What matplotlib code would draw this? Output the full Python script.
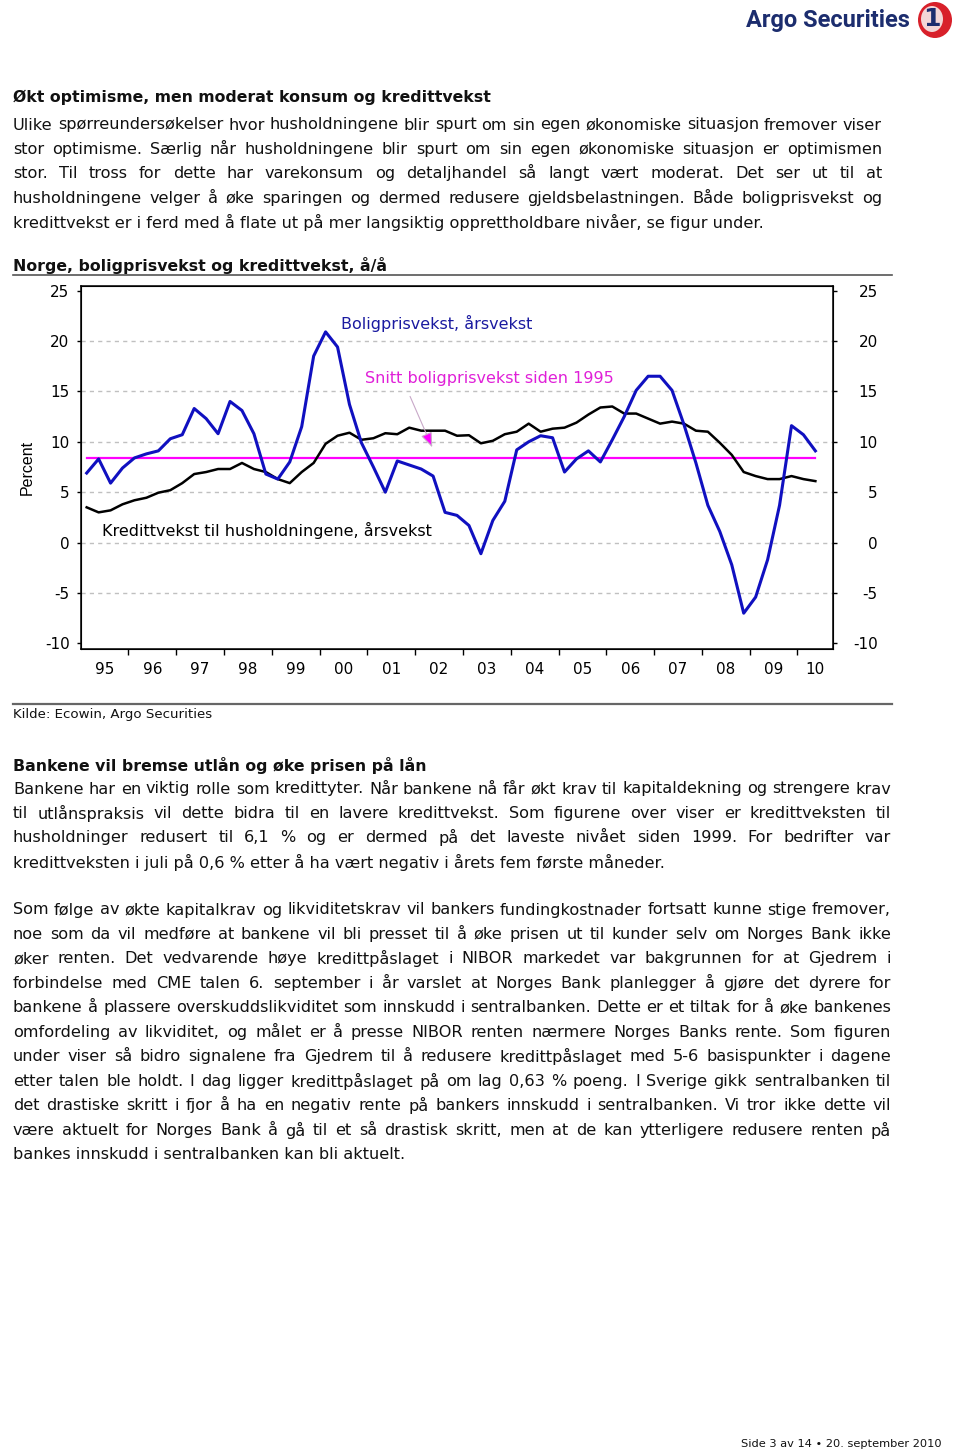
import numpy as np
import pandas as pd
import matplotlib
matplotlib.use('Agg')
import matplotlib.pyplot as plt
from matplotlib.patches import Ellipse

plt.rcParams['font.family'] = ['DejaVu Sans']
plt.rcParams['axes.unicode_minus'] = False

# ---------------- data (quarterly, 1995Q1 - 2010Q2) ----------------
quarters = pd.period_range('1995Q1', '2010Q2', freq='Q')
boligpris = [6.9, 8.3, 5.9, 7.4, 8.4, 8.8, 9.1, 10.3, 10.7, 13.3, 12.3, 10.8,
             14.0, 13.1, 10.8, 6.8, 6.3, 8.0, 11.5, 18.5, 20.9, 19.4, 13.7, 9.9,
             7.5, 5.0, 8.1, 7.7, 7.3, 6.6, 3.0, 2.7, 1.7, -1.1, 2.2, 4.1,
             9.2, 10.0, 10.6, 10.4, 7.0, 8.3, 9.1, 8.0, 10.2, 12.5, 15.1, 16.5,
             16.5, 15.1, 11.7, 7.9, 3.7, 1.1, -2.2, -7.0, -5.4, -1.7, 3.7, 11.6,
             10.7, 9.1]
kreditt = [3.5, 3.0, 3.2, 3.8, 4.2, 4.45, 4.95, 5.2, 5.9, 6.8, 7.0, 7.3,
           7.3, 7.9, 7.3, 7.0, 6.3, 5.9, 7.0, 7.9, 9.8, 10.6, 10.9, 10.2,
           10.35, 10.85, 10.75, 11.4, 11.1, 11.1, 11.1, 10.6, 10.65, 9.85, 10.1, 10.75,
           11.0, 11.8, 11.0, 11.3, 11.4, 11.9, 12.7, 13.4, 13.5, 12.8, 12.8, 12.3,
           11.8, 12.0, 11.8, 11.1, 11.0, 9.9, 8.7, 7.0, 6.6, 6.3, 6.3, 6.6,
           6.3, 6.1]
snitt = 8.36
years = list(range(1995, 2011))
year_labels = ['95', '96', '97', '98', '99', '00', '01', '02', '03', '04',
               '05', '06', '07', '08', '09', '10']

W, H = 960, 1454
fig = plt.figure(figsize=(W / 100, H / 100), dpi=100)
renderer = fig.canvas.get_renderer()

BODY = 11.6
HEAD = 11.3
LH = 24.45


def fy(py):
    return 1 - py / H


def para(lines, y0, x1, x0=13, size=BODY):
    # justified paragraph, last line left aligned
    for i, line in enumerate(lines):
        yy = fy(y0 + i * LH)
        if i == len(lines) - 1:
            fig.text(x0 / W, yy, line, fontsize=size, va='center', color='#111111')
            continue
        words = line.split(' ')
        ts = [fig.text(0, yy, w, fontsize=size, va='center', color='#111111') for w in words]
        ws = [t.get_window_extent(renderer).width for t in ts]
        gap = (x1 - x0 - sum(ws)) / (len(words) - 1)
        x = x0
        for t, w in zip(ts, ws):
            t.set_x(x / W)
            x += w + gap


def heading(text, py):
    fig.text(13 / W, fy(py), text, fontsize=HEAD, fontweight='bold', va='center', color='#111111')


# logo
fig.text(910 / W, fy(20), 'Argo Securities', fontsize=17, fontweight='bold',
         family='Roboto', color='#1c2d6e', ha='right', va='center')
fig.patches.append(Ellipse((935 / W, fy(20)), 34 / W, 36 / H, transform=fig.transFigure,
                           facecolor='#d8202a', edgecolor='none'))
fig.patches.append(Ellipse((932 / W, fy(19)), 22 / W, 26 / H, transform=fig.transFigure,
                           facecolor='#f3d6d6', edgecolor='none'))
fig.text(932 / W, fy(19), '1', fontsize=18, fontweight='bold', color='#1c2d6e',
         ha='center', va='center')

heading('Økt optimisme, men moderat konsum og kredittvekst', 97)
para(['Ulike spørreundersøkelser hvor husholdningene blir spurt om sin egen økonomiske situasjon fremover viser',
      'stor optimisme. Særlig når husholdningene blir spurt om sin egen økonomiske situasjon er optimismen',
      'stor. Til tross for dette har varekonsum og detaljhandel så langt vært moderat. Det ser ut til at',
      'husholdningene velger å øke sparingen og dermed redusere gjeldsbelastningen. Både boligprisvekst og',
      'kredittvekst er i ferd med å flate ut på mer langsiktig opprettholdbare nivåer, se figur under.'],
     125, 882)

heading('Norge, boligprisvekst og kredittvekst, å/å', 265)
fig.add_artist(plt.Line2D([13 / W, 892 / W], [fy(275), fy(275)], color='#555555', lw=1.2))

# ---------------- chart ----------------
ax = fig.add_axes([80.7 / W, fy(649), (833.3 - 80.7) / W, (649 - 286) / H])
xq = np.array([q.year + (q.quarter - 0.5) / 4 for q in quarters])
for yv in [-5, 0, 5, 10, 15, 20]:
    ax.axhline(yv, color='#c0c0c0', lw=1, ls=(0, (3, 3)), zorder=0)
ax.plot([xq[0], xq[-1]], [snitt, snitt], color='#ff00ff', lw=1.6, zorder=2)
ax.plot(xq, kreditt, color='black', lw=1.8, zorder=3)
ax.plot(xq, boligpris, color='#1010c0', lw=2.2, zorder=4)

ax.set_xlim(1995, 2010.75)
ax.set_ylim(-10.55, 25.45)
ax.set_yticks(range(-10, 30, 5))
ax.set_xticks(years[1:])
ax.set_xticklabels([])
label_pos = [y + 0.5 for y in years[:-1]] + [(2010 + 2010.75) / 2]
ax.set_xticks(label_pos, minor=True)
ax.set_xticklabels(year_labels, minor=True, fontsize=11)
ax.tick_params(axis='x', which='major', direction='out', length=4, width=1)
ax.tick_params(axis='x', which='minor', length=0, pad=9)
ax.tick_params(axis='y', direction='out', length=3, width=1, labelsize=11, pad=5)
for sp in ax.spines.values():
    sp.set_linewidth(1.1)

ax2 = ax.twinx()
ax2.set_ylim(ax.get_ylim())
ax2.set_yticks(range(-10, 30, 5))
ax2.tick_params(axis='y', direction='out', length=3, width=1, labelsize=11, pad=29)
for lbl in ax2.get_yticklabels():
    lbl.set_horizontalalignment('right')

fig.text(27 / W, fy(467), 'Percent', rotation=90, fontsize=11.5, family='Liberation Sans',
         ha='center', va='center')

ax.text(2000.45, 21.7, 'Boligprisvekst, årsvekst', color='#1a1aa0', fontsize=11.5, va='center')
ax.text(2000.95, 16.3, 'Snitt boligprisvekst siden 1995', color='#e020d8', fontsize=11.5, va='center')
ax.text(1995.45, 1.25, 'Kredittvekst til husholdningene, årsvekst', color='black', fontsize=11.5,
        va='center')
ax.annotate('', xy=(2002.38, 9.2), xytext=(2001.87, 14.75),
            arrowprops=dict(arrowstyle='-|>,head_length=0.9,head_width=0.35',
                            fc='#ff00ff', ec='#c8a8c8', lw=0.8))

fig.add_artist(plt.Line2D([13 / W, 892 / W], [fy(704), fy(704)], color='#666666', lw=1.6))
fig.text(13 / W, fy(714), 'Kilde: Ecowin, Argo Securities', fontsize=9.6, va='center',
         color='#111111')

heading('Bankene vil bremse utlån og øke prisen på lån', 765)
para(['Bankene har en viktig rolle som kredittyter. Når bankene nå får økt krav til kapitaldekning og strengere krav',
      'til utlånspraksis vil dette bidra til en lavere kredittvekst. Som figurene over viser er kredittveksten til',
      'husholdninger redusert til 6,1 % og er dermed på det laveste nivået siden 1999. For bedrifter var',
      'kredittveksten i juli på 0,6 % etter å ha vært negativ i årets fem første måneder.'],
     789, 891)

para(['Som følge av økte kapitalkrav og likviditetskrav vil bankers fundingkostnader fortsatt kunne stige fremover,',
      'noe som da vil medføre at bankene vil bli presset til å øke prisen ut til kunder selv om Norges Bank ikke',
      'øker renten. Det vedvarende høye kredittpåslaget i NIBOR markedet var bakgrunnen for at Gjedrem i',
      'forbindelse med CME talen 6. september i år varslet at Norges Bank planlegger å gjøre det dyrere for',
      'bankene å plassere overskuddslikviditet som innskudd i sentralbanken. Dette er et tiltak for å øke bankenes',
      'omfordeling av likviditet, og målet er å presse NIBOR renten nærmere Norges Banks rente. Som figuren',
      'under viser så bidro signalene fra Gjedrem til å redusere kredittpåslaget med 5-6 basispunkter i dagene',
      'etter talen ble holdt. I dag ligger kredittpåslaget på om lag 0,63 % poeng. I Sverige gikk sentralbanken til',
      'det drastiske skritt i fjor å ha en negativ rente på bankers innskudd i sentralbanken. Vi tror ikke dette vil',
      'være aktuelt for Norges Bank å gå til et så drastisk skritt, men at de kan ytterligere redusere renten på',
      'bankes innskudd i sentralbanken kan bli aktuelt.'],
     910, 891)

fig.text(942 / W, fy(1444), 'Side 3 av 14 \u2022 20. september 2010', fontsize=8.2,
         ha='right', va='center', color='#111111')

fig.savefig('out.png', dpi=100)
